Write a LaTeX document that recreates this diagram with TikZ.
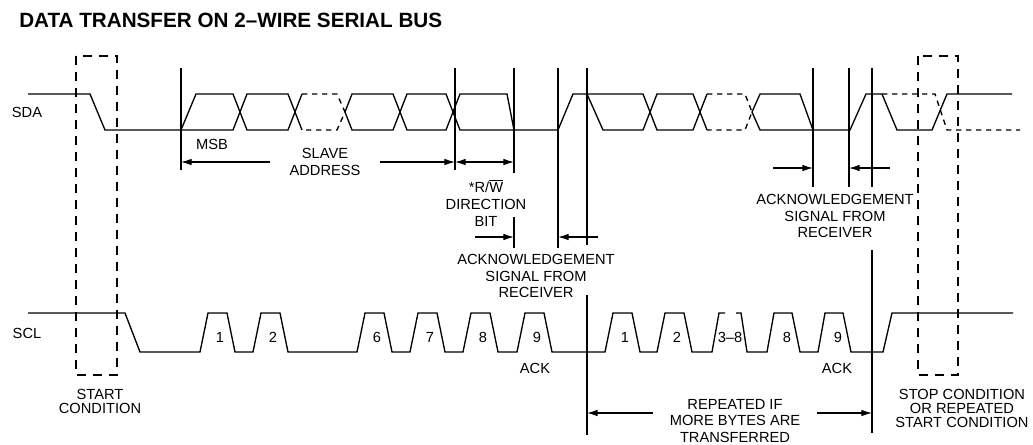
\documentclass[tikz,border=0pt]{standalone}
\usepackage{fontspec}
\setmainfont{Liberation Sans}
\usetikzlibrary{arrows.meta}
\pgfmathsetmacro{\sdahigh}{94}
\pgfmathsetmacro{\sdalow}{130}
\pgfmathsetmacro{\sclhigh}{313}
\pgfmathsetmacro{\scllow}{352}
\pgfmathsetmacro{\markertop}{68}

\tikzset{
  wave/.style={line width=1pt},
  altwave/.style={wave, dash pattern=on 4pt off 3.5pt},
  condbox/.style={line width=1pt, dash pattern=on 7pt off 5pt},
  marker/.style={line width=0.9pt},
  dimarrow/.style={line width=0.9pt, -{Latex[length=8pt,width=5pt]}},
  sigtext/.style={font=\fontsize{11}{12.6}\selectfont, inner sep=0pt, align=center},
  condtext/.style={font=\fontsize{11}{10.5}\selectfont, inner sep=0pt, align=center},
}

\begin{document}
\begin{tikzpicture}[x=0.75pt, y=-0.75pt]
    \useasboundingbox (0,0) rectangle (1033,444);
    % title
    \node[anchor=west, inner sep=0pt, font=\fontsize{15.5}{18}\selectfont\bfseries]
        (title) at (19,20) {DATA TRANSFER ON 2--WIRE SERIAL BUS};
    % start and stop condition boxes
    \draw[condbox] (76,56) rectangle (117,375);
    \draw[condbox] (918,56) rectangle (958,375);
    % SDA, first byte
    \draw[wave] (28,\sdahigh) -- (90,\sdahigh) -- (105,\sdalow) -- (233,\sdalow) -- (247,\sdahigh)
        -- (288,\sdahigh) -- (302,\sdalow);
    \draw[wave] (181,\sdalow) -- (196,\sdahigh) -- (233,\sdahigh) -- (247,\sdalow) -- (288,\sdalow)
        -- (302,\sdahigh);
    \draw[altwave] (302,\sdahigh) -- (337,\sdahigh) -- (345,112) -- (337,\sdalow) -- (302,\sdalow);
    \draw[wave] (345,112) -- (352,\sdahigh) -- (393,\sdahigh) -- (407,\sdalow) -- (446,\sdalow)
        -- (460,\sdahigh) -- (507,\sdahigh) -- (514,\sdalow);
    \draw[wave] (345,112) -- (352,\sdalow) -- (393,\sdalow) -- (407,\sdahigh) -- (446,\sdahigh)
        -- (460,\sdalow) -- (558,\sdalow) -- (573,\sdahigh) -- (643,\sdahigh) -- (657,\sdalow)
        -- (693,\sdalow) -- (707,\sdahigh);
    % SDA, next byte
    \draw[wave] (587,\sdahigh) -- (603,\sdalow) -- (643,\sdalow) -- (657,\sdahigh) -- (693,\sdahigh)
        -- (707,\sdalow);
    \draw[altwave] (707,\sdahigh) -- (745,\sdahigh) -- (752,112) -- (745,\sdalow) -- (707,\sdalow);
    \draw[wave] (752,112) -- (760,\sdahigh) -- (800,\sdahigh) -- (813,\sdalow) -- (850,\sdalow)
        -- (866,\sdahigh) -- (882,\sdahigh) -- (897,\sdalow) -- (932,\sdalow) -- (947,\sdahigh)
        -- (1012,\sdahigh);
    \draw[wave] (752,112) -- (760,\sdalow) -- (813,\sdalow);
    \draw[altwave] (882,\sdahigh) -- (935,\sdahigh) -- (947,\sdalow) -- (1020,\sdalow);
    % SCL
    \draw[wave] (28,\sclhigh) -- (125,\sclhigh) -- (140,\scllow)
        \foreach \x in {200,253,357,410,463,517,605,657} {
            -- (\x,\scllow) -- ({\x+8},\sclhigh) -- ({\x+27},\sclhigh) -- ({\x+35},\scllow)
        } -- (712,\scllow) -- (719,\sclhigh) -- (725,\sclhigh);
    \draw[wave] (736,\sclhigh) -- (741,\sclhigh) -- (747,\scllow)
        \foreach \x in {767,818} {
            -- (\x,\scllow) -- ({\x+7},\sclhigh) -- ({\x+25},\sclhigh) -- ({\x+33},\scllow)
        } -- (883,\scllow) -- (892,\sclhigh) -- (1013,\sclhigh);
    % marker lines
    \foreach \x/\yb [count=\i] in {181/170,455/170,514/173,558/248,587/245,813/187,849/187,872/187} {
        \coordinate (mk\i_top) at (\x,\markertop);
        \coordinate (mk\i_bot) at (\x,\yb);
        \draw[marker] (mk\i_top) -- (mk\i_bot);
    }
    \coordinate (rw_low_top) at (514,217);
    \coordinate (rw_low_bot) at (514,248);
    \coordinate (rep_l_top) at (587,295);
    \coordinate (rep_l_bot) at (587,435);
    \coordinate (rep_r_top) at (872,250);
    \coordinate (rep_r_bot) at (872,433);
    \draw[marker] (rw_low_top) -- (rw_low_bot);
    \draw[marker] (rep_l_top) -- (rep_l_bot);
    \draw[marker] (rep_r_top) -- (rep_r_bot);
    % dimension arrows
    \coordinate (addr_l_from) at (270,162);
    \coordinate (addr_l_to) at (181,162);
    \coordinate (addr_r_from) at (380,162);
    \coordinate (addr_r_to) at (455,162);
    \coordinate (rw_l) at (455,162);
    \coordinate (rw_r) at (514,162);
    \coordinate (ack_l_from) at (475,237);
    \coordinate (ack_l_to) at (514,237);
    \coordinate (ack_r_from) at (598,237);
    \coordinate (ack_r_to) at (558,237);
    \coordinate (ackb_l_from) at (773,168);
    \coordinate (ackb_l_to) at (813,168);
    \coordinate (ackb_r_from) at (890,168);
    \coordinate (ackb_r_to) at (849,168);
    \coordinate (rep_from_l) at (653,413);
    \coordinate (rep_to_l) at (587,413);
    \coordinate (rep_from_r) at (817,413);
    \coordinate (rep_to_r) at (872,413);
    \draw[dimarrow] (addr_l_from) -- (addr_l_to);
    \draw[dimarrow] (addr_r_from) -- (addr_r_to);
    \draw[dimarrow, {Latex[length=8pt,width=5pt]}-{Latex[length=8pt,width=5pt]}] (rw_l) -- (rw_r);
    \draw[dimarrow] (ack_l_from) -- (ack_l_to);
    \draw[dimarrow] (ack_r_from) -- (ack_r_to);
    \draw[dimarrow] (ackb_l_from) -- (ackb_l_to);
    \draw[dimarrow] (ackb_r_from) -- (ackb_r_to);
    \draw[dimarrow] (rep_from_l) -- (rep_to_l);
    \draw[dimarrow] (rep_from_r) -- (rep_to_r);
    % add labels
    \node[sigtext] (sda) at (27,112) {SDA};
    \node[sigtext] (scl) at (27,333) {SCL};
    \foreach \x/\n [count=\i] in {200/1,253/2,357/6,410/7,463/8,517/9,605/1,657/2,767/8,818/9} {
        \node[sigtext] (clk\i) at ({\x+20},337) {\n};
    }
    \node[sigtext] (clk_mid) at (730,337) {3--8};
    \node[sigtext] (msb) at (212,144) {MSB};
    \node[sigtext] (addr) at (325,162) {SLAVE\\ADDRESS};
    \node[sigtext] (rw) at (486,203) {*R/$\overline{\mbox{W}}$\\DIRECTION\\BIT};
    \node[sigtext] (ack_a) at (536,276) {ACKNOWLEDGEMENT\\SIGNAL FROM\\RECEIVER};
    \node[sigtext] (ack_b) at (835,216) {ACKNOWLEDGEMENT\\SIGNAL FROM\\RECEIVER};
    \node[sigtext] (ack_c) at (535,368) {ACK};
    \node[sigtext] (ack_d) at (837,368) {ACK};
    \node[sigtext] (repeat) at (735,421) {REPEATED IF\\MORE BYTES ARE\\TRANSFERRED};
    \node[condtext] (start) at (100,401) {START\\CONDITION};
    \node[condtext] (stop) at (962,408) {STOP CONDITION\\OR REPEATED\\START CONDITION};
\end{tikzpicture}
\end{document}
